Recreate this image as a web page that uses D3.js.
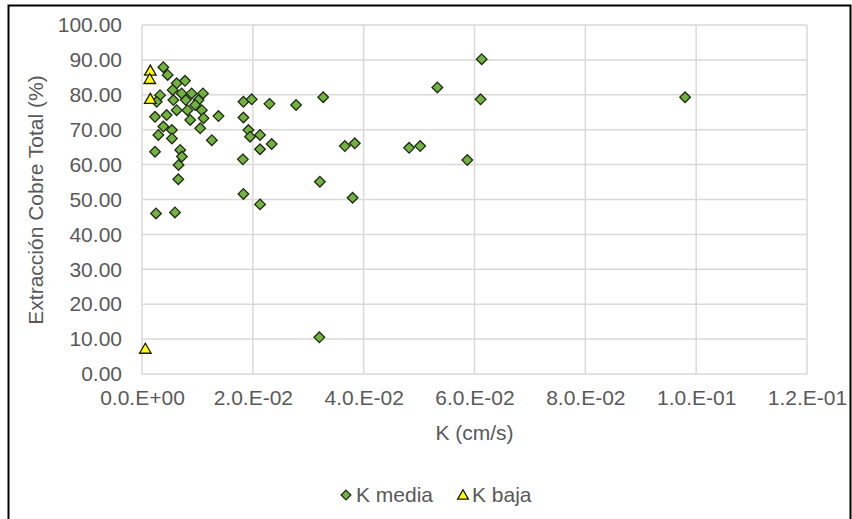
<!DOCTYPE html>
<html>
<head>
<meta charset="utf-8">
<script src="https://cdn.jsdelivr.net/npm/d3@7"></script>
<style>
  html, body { margin: 0; padding: 0; background: #fff; }
  svg text { font-family: "Liberation Sans", Arial, sans-serif; fill: #595959; }
</style>
</head>
<body>
<svg id="chart" width="852" height="519"></svg>
<script>
// K media series: K (cm/s), Extracción Cobre Total (%)
const kMediaK = [
  0.00385, 0.00463, 0.00776, 0.00626, 0.00553, 0.00325, 0.00265, 0.00716, 0.00896, 0.0110,
  0.0102, 0.0079, 0.00566, 0.0096, 0.0082, 0.00626, 0.00445, 0.00235, 0.0108, 0.0111,
  0.0138, 0.0087, 0.00385, 0.0054, 0.0105, 0.00295, 0.0054, 0.0126, 0.00235, 0.0069,
  0.0072, 0.0066, 0.00655, 0.00253, 0.00595,
  0.0183, 0.0198, 0.0230, 0.0278, 0.0327, 0.0533, 0.0183, 0.0192, 0.0195, 0.0213,
  0.0234, 0.0213, 0.0182, 0.0366, 0.0384, 0.0482, 0.0502, 0.0587, 0.0321, 0.0183,
  0.0380, 0.0213, 0.0613, 0.0611, 0.0980, 0.0320
];
const kMediaExt = [
  87.9, 85.7, 84.0, 83.3, 81.4, 79.9, 78.0, 80.4, 80.4, 80.4,
  78.5, 78.5, 78.5, 77.1, 75.6, 75.6, 74.2, 73.7, 75.6, 73.3,
  73.9, 72.8, 70.9, 69.9, 70.4, 68.5, 67.5, 67.0, 63.7, 64.2,
  62.3, 59.9, 55.8, 46.0, 46.3,
  78.0, 78.7, 77.4, 77.1, 79.3, 82.1, 73.5, 69.9, 68.0, 68.5,
  65.9, 64.4, 61.5, 65.3, 66.1, 64.8, 65.3, 61.3, 55.1, 51.6,
  50.5, 48.6, 90.2, 78.7, 79.3, 10.5
];
// K baja series
const kBajaK = [0.0015, 0.0014, 0.0015, 0.0006];
const kBajaExt = [86.6, 84.2, 78.5, 6.9];

const xTicks = [0, 0.02, 0.04, 0.06, 0.08, 0.10, 0.12];
const xTickLabels = ["0.0.E+00", "2.0.E-02", "4.0.E-02", "6.0.E-02", "8.0.E-02", "1.0.E-01", "1.2.E-01"];
const yTicks = [0, 10, 20, 30, 40, 50, 60, 70, 80, 90, 100];
const seriesNames = ["K media", "K baja"];

const svg = d3.select("#chart");
const plot = { left: 142, right: 807, top: 25, bottom: 374 };

const x = d3.scaleLinear().domain([0, 0.12]).range([plot.left, plot.right]);
const y = d3.scaleLinear().domain([0, 100]).range([plot.bottom, plot.top]);

// outer frame
svg.append("rect")
  .attr("x", 8.5).attr("y", 5.5).attr("width", 842).attr("height", 530)
  .attr("fill", "none").attr("stroke", "#000").attr("stroke-width", 2);

// gridlines
const grid = svg.append("g");
grid.selectAll("line.h").data(yTicks).join("line")
  .attr("x1", plot.left).attr("x2", plot.right)
  .attr("y1", d => y(d)).attr("y2", d => y(d))
  .attr("stroke", "#d9d9d9").attr("stroke-width", 1.5);
grid.selectAll("line.v").data(xTicks).join("line")
  .attr("y1", plot.top).attr("y2", plot.bottom)
  .attr("x1", d => x(d)).attr("x2", d => x(d))
  .attr("stroke", "#d9d9d9").attr("stroke-width", 1.5);

// y axis labels
const yAxis = d3.axisLeft(y).tickValues(yTicks).tickFormat(d => d.toFixed(2)).tickSize(0).tickPadding(20);
const gy = svg.append("g").attr("transform", `translate(${plot.left},0)`).call(yAxis);
gy.select(".domain").remove();
gy.selectAll("text").style("font-size", "21px").attr("fill", "#595959");

// x axis labels
const xAxis = d3.axisBottom(x).tickValues(xTicks).tickFormat((d, i) => xTickLabels[i]).tickSize(0).tickPadding(16);
const gx = svg.append("g").attr("transform", `translate(0,${plot.bottom})`).call(xAxis);
gx.select(".domain").remove();
gx.selectAll("text").style("font-size", "21px").attr("fill", "#595959");

// axis titles
svg.append("text")
  .attr("transform", `translate(43,200) rotate(-90)`)
  .attr("text-anchor", "middle").style("font-size", "21px")
  .text("Extracción Cobre Total (%)");
svg.append("text")
  .attr("x", (plot.left + plot.right) / 2).attr("y", 440)
  .attr("text-anchor", "middle").style("font-size", "21px")
  .text("K (cm/s)");

// symbols
const diamond = d3.symbol().type(d3.symbolDiamond2).size(72);
const triangle = d3.symbol().type(d3.symbolTriangle).size(58);

const media = kMediaK.map((k, i) => ({ k, v: kMediaExt[i] }));
const baja = kBajaK.map((k, i) => ({ k, v: kBajaExt[i] }));

svg.append("g").selectAll("path").data(media).join("path")
  .attr("d", diamond)
  .attr("transform", d => `translate(${x(d.k)},${y(d.v)})`)
  .attr("fill", "#72b23f").attr("stroke", "#1e2a14").attr("stroke-width", 1.3);

svg.append("g").selectAll("path").data(baja).join("path")
  .attr("d", triangle)
  .attr("transform", d => `translate(${x(d.k)},${y(d.v)})`)
  .attr("fill", "#ffff00").attr("stroke", "#1a1a00").attr("stroke-width", 1.3);

// legend
const legend = svg.append("g");
legend.append("path").attr("d", d3.symbol().type(d3.symbolDiamond2).size(60))
  .attr("transform", "translate(346,495)")
  .attr("fill", "#72b23f").attr("stroke", "#1e2a14").attr("stroke-width", 1.3);
legend.append("text").attr("x", 356).attr("y", 502).style("font-size", "21px").text(seriesNames[0]);
legend.append("path").attr("d", d3.symbol().type(d3.symbolTriangle).size(50))
  .attr("transform", "translate(463,496)")
  .attr("fill", "#ffff00").attr("stroke", "#1a1a00").attr("stroke-width", 1.3);
legend.append("text").attr("x", 472).attr("y", 502).style("font-size", "21px").text(seriesNames[1]);
</script>
</body>
</html>
